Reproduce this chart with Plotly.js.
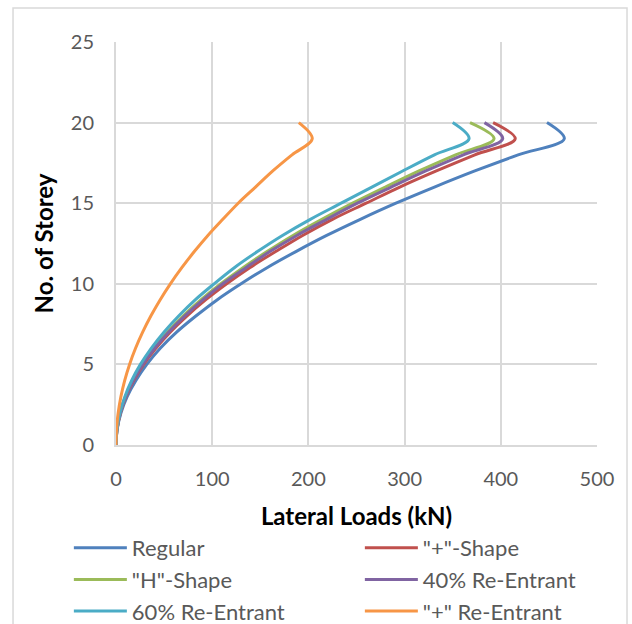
<!DOCTYPE html>
<html>
<head>
<meta charset="utf-8">
<script src="https://cdn.plot.ly/plotly-3.0.1.min.js"></script>
<style>
  html, body { margin: 0; padding: 0; background: #fff; }
  #chart { width: 632px; height: 624px; }
</style>
</head>
<body>
<div id="chart"></div>
<script>
// Storey levels (y)
const storeys = [0,1,2,3,4,5,6,7,8,9,10,11,12,13,14,15,16,17,18,19,20];

// Lateral loads (kN) per storey
const regular      = [0,1.3,5.2,11.6,20.7,32,46,63,83,105,130,157,187,219,254,291,331,373,418,466,448];
const plusShape    = [0,1.2,4.6,10.3,18.4,28.7,41.4,56.3,73.6,93.1,115,139,166,194,225,260,295,333,373,415,392];
const hShape       = [0,1.1,4.4,9.8,17.4,27.2,39.2,53.3,69.7,88.2,109,132,157,184,214,246,280,315,353,393,368];
const reEntrant40  = [0,1.1,4.5,10.0,17.8,27.8,40.1,54.6,71.3,90.2,111,135,160,188,219,251,286,322,361,402,383];
const reEntrant60  = [0,1.0,4.1,9.2,16.3,25.4,36.6,49.8,65.1,82.3,102,123,147,173,202,234,266,298,331,367,350];
const plusReEntrant= [0,0.6,2.3,5.1,9.0,14.1,20.3,27.7,36.2,45.8,56.5,68.4,81.4,95.5,111,127,145,163,183,204,190];

const seriesNames = ['Regular', '"+"-Shape', '"H"-Shape', '40% Re-Entrant', '60% Re-Entrant', '"+" Re-Entrant'];
const seriesData  = [regular, plusShape, hShape, reEntrant40, reEntrant60, plusReEntrant];
const seriesColors = ['#4F81BD', '#C0504D', '#9BBB59', '#8064A2', '#4BACC6', '#F79646'];

const xTicks = [0,100,200,300,400,500];
const yTicks = [0,5,10,15,20,25];

const traces = seriesData.map((vals, i) => ({
  type: 'scatter',
  mode: 'lines',
  name: seriesNames[i],
  x: vals,
  y: storeys,
  line: { color: seriesColors[i], width: 3, shape: 'spline', smoothing: 1 },
  hoverinfo: 'x+y+name'
}));

const layout = {
  width: 632,
  height: 624,
  margin: { l: 116, r: 35, t: 42, b: 179, autoexpand: false },
  paper_bgcolor: '#ffffff',
  plot_bgcolor: '#ffffff',
  font: { family: 'Lato, "Open Sans", sans-serif', size: 20, color: '#595959' },
  showlegend: true,
  xaxis: {
    range: [0, 500],
    tickvals: xTicks,
    ticktext: xTicks.map(String),
    showgrid: true,
    gridcolor: '#D9D9D9',
    gridwidth: 2,
    zeroline: false,
    showline: true,
    linecolor: '#D9D9D9',
    linewidth: 2,
    ticks: '',
    automargin: false,
    ticklabelstandoff: 15,
    tickfont: { size: 20, color: '#595959' },
    title: { text: '<b>Lateral Loads (kN)</b>', font: { size: 24, color: '#000000' }, standoff: 19 },
    fixedrange: true
  },
  yaxis: {
    range: [0, 25],
    tickvals: yTicks,
    ticktext: yTicks.map(String),
    showgrid: true,
    gridcolor: '#D9D9D9',
    gridwidth: 2,
    zeroline: false,
    showline: true,
    linecolor: '#D9D9D9',
    linewidth: 2,
    ticks: '',
    automargin: false,
    ticklabelstandoff: 16,
    tickfont: { size: 20, color: '#595959' },
    title: { text: '<b>No. of Storey</b>', font: { size: 24, color: '#000000' }, standoff: 10 },
    fixedrange: true
  },
  legend: {
    orientation: 'h',
    x: -0.098,
    xanchor: 'left',
    y: -0.2035,
    yanchor: 'top',
    entrywidth: 223,
    entrywidthmode: 'pixels',
    itemwidth: 53,
    tracegroupgap: 0,
    font: { size: 22, color: '#595959' },
    bgcolor: 'rgba(0,0,0,0)'
  },
  shapes: [{
    type: 'rect', xref: 'paper', yref: 'paper',
    x0: -0.2141, x1: 1.0624, y0: -0.46, y1: 1.0844,
    line: { color: '#D9D9D9', width: 1.5 },
    fillcolor: 'rgba(0,0,0,0)',
    layer: 'below'
  }]
};

Plotly.newPlot('chart', traces, layout, { displayModeBar: false, staticPlot: true });
</script>
</body>
</html>
